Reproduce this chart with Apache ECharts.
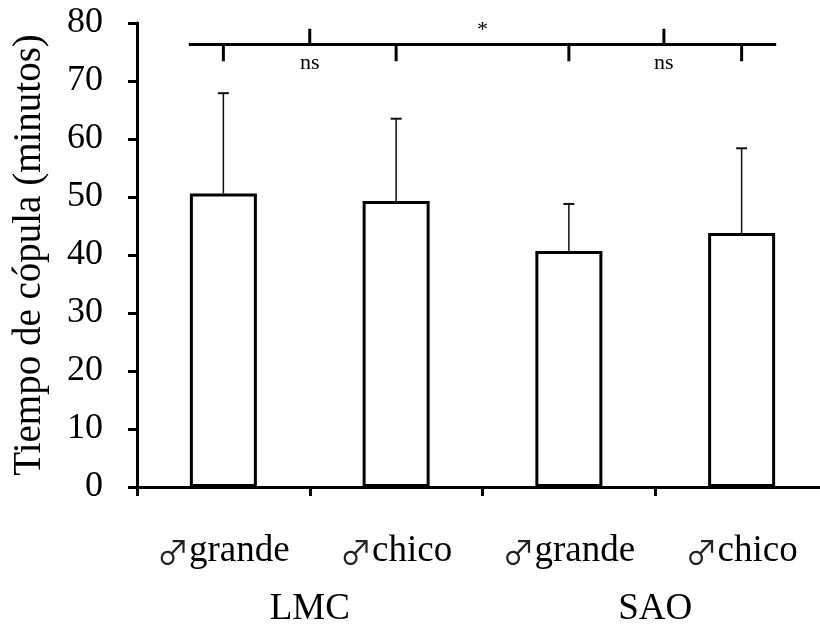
<!DOCTYPE html>
<html>
<head>
<meta charset="utf-8">
<script src="https://cdn.jsdelivr.net/npm/echarts@6/dist/echarts.min.js"></script>
<style>
  html, body { margin: 0; padding: 0; background: #fff; overflow: hidden; }
  #chart { width: 828px; height: 628px; }
</style>
</head>
<body>
<div id="chart"></div>
<script>
// categories and groups
var categories = ['grande', 'chico', 'grande', 'chico']
var groups = ['LMC', 'SAO']

// mean copulation time and mean + SD (minutes)
var means = [50.6, 49.3, 40.7, 43.8]
var upperErr = [67.9, 63.5, 48.8, 58.4]

// significance bracket (x in category units, y in minutes)
var bracketSpan = [-0.2, 3.2]
var bracketLevel = 76.3
var downTicks = [0, 1, 2, 3]
var downEnd = 73.4
var upTicks = [0.5, 2.55]
var upEnd = 79.0
var sigX = [0.5, 1.5, 2.55]
var sigY = [73.0, 78.7, 73.0]
var sigText = ['ns', '*', 'ns']

var serif = '"Liberation Serif", "Times New Roman", serif'

var errData = means.map(function (m, i) { return [i, m, upperErr[i]] })

var segments = [[bracketSpan[0], bracketLevel, bracketSpan[1], bracketLevel]]
downTicks.forEach(function (x) { segments.push([x, bracketLevel, x, downEnd]) })
upTicks.forEach(function (x) { segments.push([x, bracketLevel, x, upEnd]) })

var sigData = sigX.map(function (x, i) { return [x, sigY[i]] })

var myChart = echarts.init(document.getElementById('chart'))
var option = {
  backgroundColor: '#fff',
  animation: false,
  grid: {
    left: 137,
    top: 23,
    right: 0,
    height: 464
  },
  xAxis: [
    {
      type: 'category',
      data: categories,
      position: 'bottom',
      axisLine: { onZero: false, lineStyle: { color: '#000', width: 3 } },
      axisTick: { show: true, length: 9, lineStyle: { color: '#000', width: 3 } },
      axisLabel: {
        margin: 46,
        color: '#000',
        formatter: function (v) { return '{m|♂}{t|' + v + '}' },
        rich: {
          m: { fontFamily: '"Noto Sans CJK JP"', fontSize: 32, color: '#222' },
          t: { fontFamily: serif, fontSize: 37, color: '#000' }
        }
      }
    },
    {
      type: 'category',
      data: groups,
      position: 'bottom',
      axisLine: { show: false, onZero: false },
      axisTick: { show: false },
      axisLabel: { margin: 104, color: '#000', fontFamily: serif, fontSize: 37 }
    },
    {
      type: 'value',
      min: -0.5,
      max: 3.5,
      show: false
    }
  ],
  yAxis: {
    type: 'value',
    min: 0,
    max: 80,
    interval: 10,
    name: 'Tiempo de cópula (minutos)',
    nameLocation: 'middle',
    nameGap: 88,
    nameTextStyle: { color: '#000', fontFamily: serif, fontSize: 39 },
    splitLine: { show: false },
    axisLine: { show: true, onZero: false, lineStyle: { color: '#000', width: 3 } },
    axisTick: { show: true, length: 9, lineStyle: { color: '#000', width: 3 } },
    axisLabel: { margin: 34, color: '#000', fontFamily: serif, fontSize: 36 }
  },
  series: [
    {
      type: 'bar',
      data: means,
      barWidth: 67,
      itemStyle: { color: '#fff', borderColor: '#000', borderWidth: 3 }
    },
    {
      type: 'custom',
      data: errData,
      z: 3,
      renderItem: function (params, api) {
        var base = api.coord([api.value(0), api.value(1)])
        var top = api.coord([api.value(0), api.value(2)])
        return {
          type: 'group',
          children: [
            { type: 'line', shape: { x1: base[0], y1: base[1], x2: top[0], y2: top[1] }, style: { stroke: '#111', lineWidth: 1.5 } },
            { type: 'line', shape: { x1: top[0] - 5.5, y1: top[1], x2: top[0] + 5.5, y2: top[1] }, style: { stroke: '#111', lineWidth: 2 } }
          ]
        }
      }
    },
    {
      type: 'custom',
      xAxisIndex: 2,
      data: segments,
      renderItem: function (params, api) {
        var a = api.coord([api.value(0), api.value(1)])
        var b = api.coord([api.value(2), api.value(3)])
        return {
          type: 'line',
          shape: { x1: a[0], y1: a[1], x2: b[0], y2: b[1] },
          style: { stroke: '#000', lineWidth: 3 }
        }
      }
    },
    {
      type: 'custom',
      xAxisIndex: 2,
      data: sigData,
      renderItem: function (params, api) {
        var p = api.coord([api.value(0), api.value(1)])
        return {
          type: 'text',
          x: p[0],
          y: p[1],
          style: {
            text: sigText[params.dataIndex],
            fontFamily: serif,
            fontSize: 22,
            fill: '#000',
            align: 'center',
            verticalAlign: 'middle'
          }
        }
      }
    }
  ]
}
myChart.setOption(option)
</script>
</body>
</html>
